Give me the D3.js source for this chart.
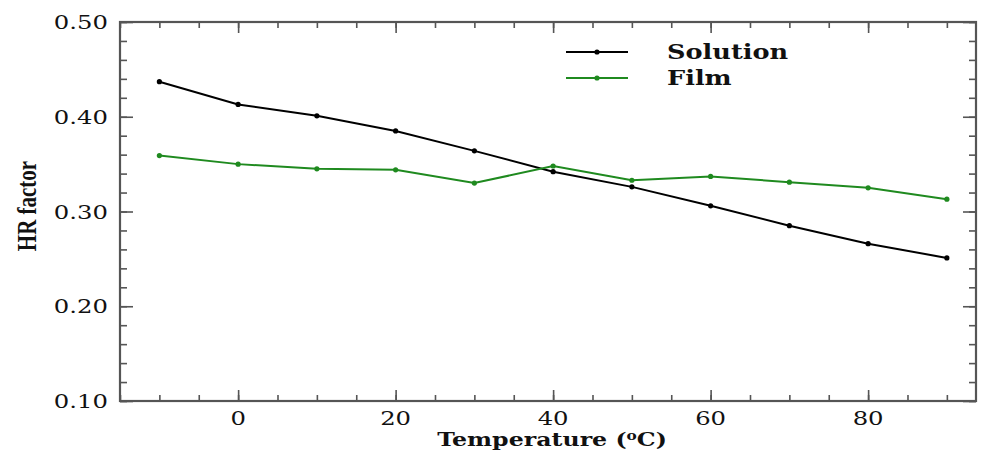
<!DOCTYPE html>
<html><head><meta charset="utf-8">
<script src="https://cdn.jsdelivr.net/npm/d3@7"></script>
<style>html,body{margin:0;padding:0;background:#fff;}</style>
</head><body>
<svg id="c" width="981" height="450"></svg>
<script>
const temps = [-10, 0, 10, 20, 30, 40, 50, 60, 70, 80, 90];
const solution = [0.437, 0.413, 0.401, 0.385, 0.364, 0.342, 0.326, 0.306, 0.285, 0.266, 0.251];
const film = [0.359, 0.350, 0.345, 0.344, 0.330, 0.348, 0.333, 0.337, 0.331, 0.325, 0.313];
const xTicks = [0, 20, 40, 60, 80];
const yTicks = [0.10, 0.20, 0.30, 0.40, 0.50];
const seriesNames = ["Solution", "Film"];
const seriesColors = ["#000000", "#1f8a1f"];

const SX = 1.28;
const svg = d3.select("#c");
const L = 120, R = 976, T = 22, B = 401;
const x = d3.scaleLinear().domain([-15, 93.7]).range([L, R]);
const y = d3.scaleLinear().domain([0.10, 0.50]).range([B, T]);
const axisColor = "#555";

const xMinor = d3.range(-15, 94, 5);
const yMinor = d3.range(0.10, 0.5001, 0.02).map(v => +v.toFixed(2));
function drawAxis(axisGen, tx, ty) {
  const g = svg.append("g").attr("transform", `translate(${tx},${ty})`).call(axisGen);
  g.selectAll("text").remove();
  g.selectAll("line").attr("stroke", axisColor).attr("stroke-width", 1.6);
  g.select(".domain").remove();
  return g;
}
drawAxis(d3.axisTop(x).tickValues(xMinor).tickSize(6), 0, B);
drawAxis(d3.axisTop(x).tickValues(xTicks).tickSize(11), 0, B);
drawAxis(d3.axisBottom(x).tickValues(xMinor).tickSize(6), 0, T);
drawAxis(d3.axisBottom(x).tickValues(xTicks).tickSize(11), 0, T);
drawAxis(d3.axisRight(y).tickValues(yMinor).tickSize(7), L, 0);
drawAxis(d3.axisRight(y).tickValues(yTicks).tickSize(13), L, 0);
drawAxis(d3.axisLeft(y).tickValues(yMinor).tickSize(7), R, 0);
drawAxis(d3.axisLeft(y).tickValues(yTicks).tickSize(13), R, 0);

svg.append("rect").attr("x", L).attr("y", T).attr("width", R - L).attr("height", B - T)
  .attr("fill", "none").attr("stroke", axisColor).attr("stroke-width", 2.2);

xTicks.forEach(v => {
  const g = svg.append("g").attr("transform", `translate(${x(v)},425) scale(${SX},1)`);
  g.append("text").attr("font-family", "DejaVu Serif").attr("font-size", 19)
    .attr("text-anchor", "middle").attr("fill", "#111").text(v);
});
yTicks.forEach(v => {
  const g = svg.append("g").attr("transform", `translate(108,${y(v) + 7}) scale(${SX},1)`);
  g.append("text").attr("font-family", "DejaVu Serif").attr("font-size", 19)
    .attr("text-anchor", "end").attr("fill", "#111").text(v.toFixed(2));
});

{
  const g = svg.append("g").attr("transform", `translate(552,446) scale(${SX},1)`);
  const t = g.append("text").attr("font-family", "DejaVu Serif").attr("font-size", 18.5)
    .attr("font-weight", "bold").attr("text-anchor", "middle").attr("fill", "#111");
  t.append("tspan").text("Temperature (");
  t.append("tspan").attr("font-size", 12).attr("dy", -6).text("o");
  t.append("tspan").attr("dy", 6).text("C)");
}
{
  const g = svg.append("g").attr("transform", `translate(36,206) scale(${SX},1) rotate(-90)`);
  g.append("text").attr("font-family", "Liberation Serif").attr("font-size", 21)
    .attr("font-weight", "bold").attr("text-anchor", "middle").attr("fill", "#111").text("HR factor");
}

const allSeries = [solution, film];
const line = d3.line().x((d, i) => x(temps[i])).y(d => y(d));
allSeries.forEach((s, k) => {
  svg.append("path").datum(s).attr("d", line).attr("fill", "none")
    .attr("stroke", seriesColors[k]).attr("stroke-width", 2);
  svg.append("g").selectAll("circle").data(s).join("circle")
    .attr("cx", (d, i) => x(temps[i])).attr("cy", d => y(d)).attr("r", 2.6)
    .attr("fill", seriesColors[k]);
});

const legY = [52, 78];
seriesNames.forEach((name, k) => {
  svg.append("line").attr("x1", 566).attr("x2", 628).attr("y1", legY[k]).attr("y2", legY[k])
    .attr("stroke", seriesColors[k]).attr("stroke-width", 2);
  svg.append("circle").attr("cx", 597).attr("cy", legY[k]).attr("r", 2.6).attr("fill", seriesColors[k]);
  const g = svg.append("g").attr("transform", `translate(667,${legY[k] + 7}) scale(${SX},1)`);
  g.append("text").attr("font-family", "DejaVu Serif").attr("font-size", 20)
    .attr("font-weight", "bold").attr("fill", "#111").text(name);
});
</script>
</body></html>
